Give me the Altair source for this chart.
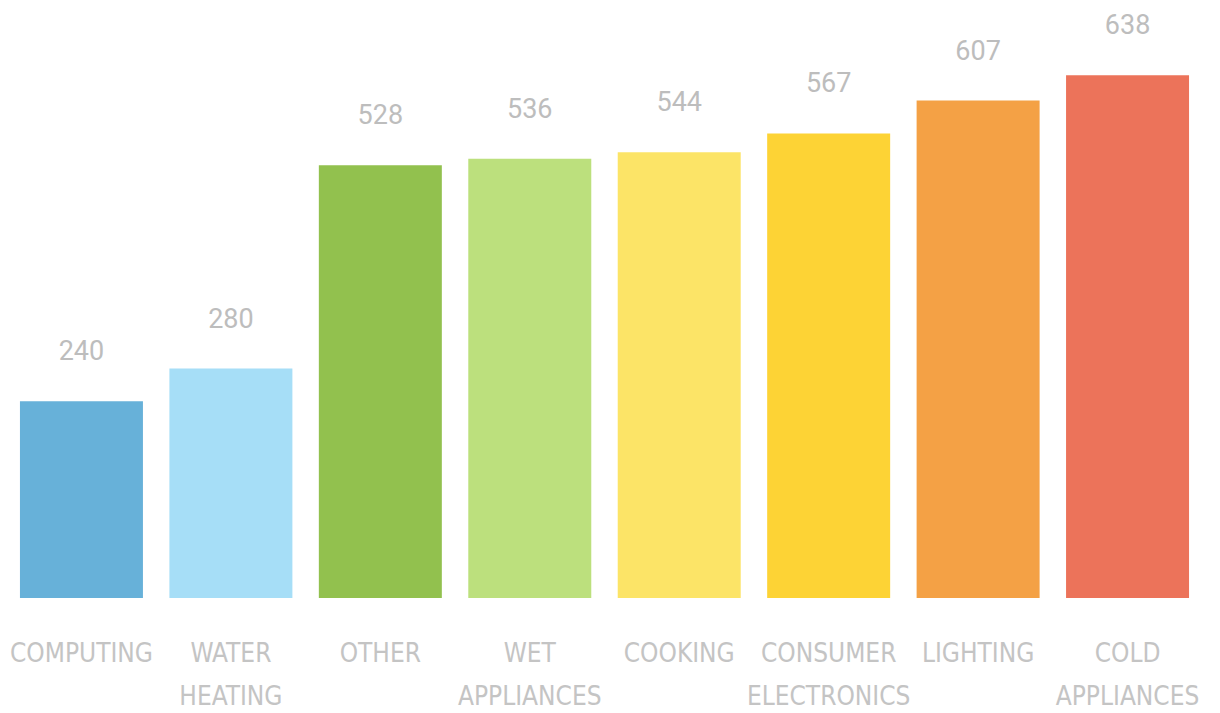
import altair as alt
import pandas as pd

categories = ["COMPUTING", "WATER\nHEATING", "OTHER", "WET\nAPPLIANCES", "COOKING",
              "CONSUMER\nELECTRONICS", "LIGHTING", "COLD\nAPPLIANCES"]
values = [240, 280, 528, 536, 544, 567, 607, 638]
colors = ["#67B1D9", "#A6DEF7", "#92C14E", "#BCE07D", "#FCE467", "#FDD335", "#F4A145", "#EC735A"]

df = pd.DataFrame({"category": categories, "value": values, "color": colors})

x = alt.X("category:N", sort=categories, title=None,
          scale=alt.Scale(paddingInner=0.177, paddingOuter=0.08),
          axis=alt.Axis(labelAngle=0, domain=False, ticks=False,
                        labelExpr="split(datum.label, '\\n')",
                        labelFont="DejaVu Sans Condensed", labelFontSize=26,
                        labelColor="#c4c4c4", labelPadding=42, labelLineHeight=43,
                        labelBaseline="top", labelAlign="center", labelLimit=0,
                        labelOverlap=False))
y = alt.Y("value:Q", scale=alt.Scale(domain=[0, 720]), axis=None)

bars = alt.Chart(df).mark_bar().encode(
    x=x, y=y, color=alt.Color("color:N", scale=None)
)
text = alt.Chart(df).mark_text(
    font="Roboto", fontSize=27, color="#bdbdbd", baseline="alphabetic", dy=-41
).encode(x=alt.X("category:N", sort=categories), y=y, text="value:Q")

chart = alt.layer(bars, text).properties(
    width=1193, height=590,
    autosize=alt.AutoSizeParams(type="none"),
    padding={"left": 0, "top": 0, "right": 0, "bottom": 110}
).configure_view(stroke=None)

chart.save("out.html", embed_options={"renderer": "svg", "actions": False})
